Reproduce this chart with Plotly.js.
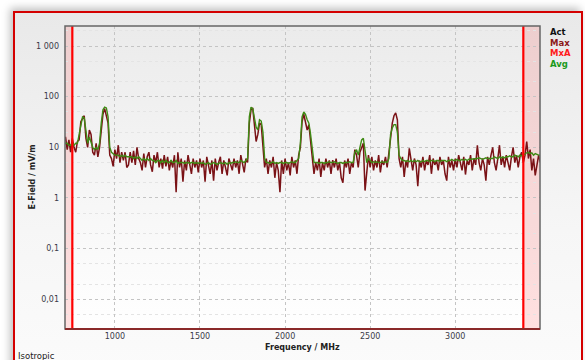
<!DOCTYPE html>
<html>
<head>
<meta charset="utf-8">
<script src="https://cdn.plot.ly/plotly-3.0.1.min.js"></script>
<style>
html,body{margin:0;padding:0;width:585px;height:360px;overflow:hidden;background:#fff;}
#panel{position:absolute;left:13px;top:11px;width:566px;height:360px;border:2px solid #d40000;border-bottom:none;
background:linear-gradient(#e9e9e9,#f6f6f6 60%,#fbfbfb);box-shadow:-3px -3px 8px rgba(0,0,0,0.25);}
#chart{position:absolute;left:0;top:0;width:585px;height:360px;}
</style>
</head>
<body>
<div id="panel"></div>
<div id="chart"></div>
<script>
// sweep definition (MHz)
const freqStart = 700;
const freqStep = 10;

// Average reading (mV/m)
const avgValues = [
 11, 12, 12, 11, 11, 12, 11, 12, 12, 18,
 30, 40, 38, 22, 12, 16, 13, 10, 9, 10,
 9, 12, 30, 55, 62, 60, 40, 10, 8, 7.5,
 7, 7, 7, 6.5, 7, 6.5, 7, 6.5, 6.5, 6.5,
 6.5, 6, 6.5, 6, 6.5, 6, 5.5, 6, 5.5, 6,
 5.5, 6, 5.5, 5.5, 5, 5.5, 5.5, 5, 5.5, 5,
 5.5, 5, 5, 5.5, 5, 5, 5.5, 4.8, 5, 5,
 5, 4.8, 5, 5, 4.8, 5, 5, 4.8, 5, 4.8,
 5, 4.8, 5, 4.6, 4.8, 5, 4.6, 4.8, 5, 4.8,
 4.6, 4.8, 5, 4.8, 4.8, 5, 4.6, 5, 4.8, 5,
 5, 5.2, 5, 5, 5.5, 5.2, 5, 5.5, 6, 40,
 62, 58, 40, 25, 22, 35, 33, 20, 6, 5,
 5, 4.8, 5, 5.2, 4.8, 5, 4.8, 5, 5, 4.8,
 5, 5, 4.8, 5, 5.2, 5, 5, 5.5, 6, 12,
 40, 50, 45, 35, 30, 18, 8, 5, 5, 5,
 4.8, 5, 5, 4.8, 5, 5, 5.2, 5, 5, 5.2,
 5, 4.8, 5, 5, 4.8, 5, 5, 5, 5.2, 5,
 5, 8, 9, 7, 10, 14, 15, 8, 5, 6,
 5.5, 5, 5.2, 5, 5.2, 5, 5, 5.2, 5, 5.2,
 5, 6, 18, 24, 28, 28, 20, 7, 6, 5.5,
 5.5, 5.2, 5.5, 5.2, 5.5, 5.2, 5.5, 5.2, 5.5, 5.2,
 5.2, 5.5, 5.2, 5.5, 5.5, 5.2, 5.5, 5.5, 5.2, 5.5,
 5.5, 5.2, 5.5, 5.5, 5.5, 5.2, 5.5, 5.5, 5.8, 5.5,
 5.5, 5.8, 5.5, 5.5, 5.8, 5.5, 5.8, 5.5, 5.8, 5.8,
 5.8, 6, 5.8, 6, 6.2, 6, 5.8, 6, 6.2, 6,
 6, 6.2, 6, 6.5, 6.2, 6, 6.5, 6.2, 6.5, 6.2,
 6.5, 6.5, 6.8, 6.5, 6.5, 7, 6.8, 6.5, 7, 6.8,
 7, 7.5, 7.8, 8, 7.5, 7.8, 7, 7.5, 7.2, 7,
 7
];

// Max-hold reading (mV/m)
const maxValues = [
 12, 16, 9, 14, 8, 15, 10, 8, 13, 14,
 32, 36, 42, 15, 10, 22, 18, 8, 7, 12,
 6.5, 10, 25, 45, 58, 40, 30, 7, 6, 4.2,
 9, 6, 11, 5, 8, 5.5, 8, 4, 4.5, 8,
 5, 8.5, 4.5, 10, 6, 5, 3.5, 7.5, 4, 6.5,
 8, 4.5, 3.3, 7, 5, 8, 4, 6, 3.8, 7,
 4.2, 6.5, 3.5, 5.5, 4, 7, 1.3, 8, 4, 6,
 2.1, 5.5, 3.5, 7, 4.5, 3, 6, 4, 5.5, 3.2,
 6, 4, 5.5, 2.1, 6.5, 4, 3, 5.5, 2.2, 6,
 3.5, 5, 6.5, 3, 5.5, 4, 2.8, 6, 4.5, 3.5,
 6, 4, 5.5, 3, 7, 4.5, 3.2, 6, 5, 30,
 55, 60, 25, 13, 18, 30, 28, 12, 4, 6,
 3, 5.5, 4, 6.5, 2.5, 5, 3.5, 1.3, 5.5, 3,
 6, 3.5, 5, 2.8, 6.5, 4, 5.5, 3, 7, 10,
 32, 45, 30, 22, 28, 14, 6, 3, 5, 3.5,
 6, 2.6, 5, 3.5, 6, 4, 5.5, 3, 5.6, 4,
 6, 3.5, 5, 2.5, 2, 5.5, 4, 6, 3, 5,
 4, 9, 7, 4, 8, 10, 12, 1.4, 3, 7,
 4, 6.5, 3.5, 5.5, 4, 7, 3.2, 5.5, 4.5, 6.5,
 4, 7, 15, 30, 42, 48, 35, 6, 4, 6.5,
 2.6, 5.5, 4, 9.5, 5, 3.5, 6, 4.5, 1.7, 5.5,
 4, 6.5, 3.5, 5.5, 4.5, 7, 3, 6, 4.5, 5.5,
 3.5, 6.5, 4.5, 5.5, 3, 2.2, 6.5, 4, 5.5, 3.5,
 6, 4, 7, 4.5, 3.5, 6.5, 2.9, 5.5, 4.5, 7,
 3.5, 6, 4.5, 11, 5, 3.5, 6, 4.5, 2.2, 6.5,
 4.5, 7, 10, 5, 3.5, 6, 11, 4.5, 6.5, 4,
 7, 5, 3.5, 6.5, 10, 5, 7, 4, 6.5, 8,
 5, 7, 13, 6, 9, 3.5, 6, 2.8, 5, 7,
 5
];

const freqs = avgValues.map((_, i) => freqStart + i * freqStep);

// axis / limits
const xRange = [707, 3498];
const limitLow = 750;
const limitHigh = 3400;
const xTickVals = [1000, 1500, 2000, 2500, 3000];
const xTickText = ['1000', '1500', '2000', '2500', '3000'];
const yTickVals = [0.01, 0.1, 1, 10, 100, 1000];
const yTickText = ['0,01', '0,1', '1', '10', '100', '1 000'];
const yMinorVals = [0.002, 0.005, 0.02, 0.05, 0.2, 0.5, 2, 5, 20, 50, 200, 500, 2000];
const legendLabels = ['Act', 'Max', 'MxA', 'Avg'];
const legendColors = ['#111111', '#8b1a1a', '#ff1a1a', '#1a9a1a'];

const bgSvg = "<svg xmlns='http://www.w3.org/2000/svg' width='10' height='100' preserveAspectRatio='none'>" +
  "<defs><linearGradient id='g' x1='0' y1='0' x2='0' y2='1'><stop offset='0' stop-color='#ebebeb'/>" +
  "<stop offset='1' stop-color='#ffffff'/></linearGradient></defs><rect width='10' height='100' fill='url(#g)'/></svg>";

const traces = [
  {x: freqs, y: maxValues, type: 'scatter', mode: 'lines', name: 'Max',
   line: {color: '#7a1216', width: 1.5}, hoverinfo: 'skip'},
  {x: freqs, y: avgValues, type: 'scatter', mode: 'lines', name: 'Avg',
   line: {color: '#3f8a14', width: 1.4}, hoverinfo: 'skip'}
];

const tickFont = {family: 'DejaVu Sans, Verdana, sans-serif', size: 8, color: '#3a3a48'};

const shapes = [
  {type: 'rect', xref: 'x', yref: 'paper', x0: xRange[0], x1: limitLow, y0: 0, y1: 1,
   fillcolor: 'rgba(255,0,0,0.12)', line: {width: 0}, layer: 'below'},
  {type: 'rect', xref: 'x', yref: 'paper', x0: limitHigh, x1: xRange[1], y0: 0, y1: 1,
   fillcolor: 'rgba(255,0,0,0.12)', line: {width: 0}, layer: 'below'},
  {type: 'line', xref: 'x', yref: 'paper', x0: limitLow, x1: limitLow, y0: 0, y1: 1,
   line: {color: '#ff0000', width: 2.2}},
  {type: 'line', xref: 'x', yref: 'paper', x0: limitHigh, x1: limitHigh, y0: 0, y1: 1,
   line: {color: '#ff0000', width: 2.2}},
  {type: 'rect', xref: 'paper', yref: 'paper', x0: 0, x1: 1, y0: 0, y1: 1,
   line: {color: '#666666', width: 1.5}},
  {type: 'line', xref: 'paper', yref: 'paper', x0: 0, x1: 1, y0: 0, y1: 0,
   line: {color: '#8b2a2a', width: 2}}
];

const annotations = [
  {text: '<b>E-Field / mV/m</b>', xref: 'paper', yref: 'paper', x: -0.083, y: 0.5,
   textangle: -90, showarrow: false, font: {family: 'DejaVu Sans, Verdana, sans-serif', size: 8, color: '#222'}},
  {text: '<b>Frequency / MHz</b>', xref: 'paper', yref: 'paper', x: 0.5, y: -0.062,
   yanchor: 'middle', showarrow: false, font: {family: 'DejaVu Sans, Verdana, sans-serif', size: 8, color: '#222'}},
  {text: 'Isotropic', xref: 'paper', yref: 'paper', x: -0.104, xanchor: 'left', y: -0.088, yanchor: 'middle',
   showarrow: false, font: {family: 'DejaVu Sans, Verdana, sans-serif', size: 8.5, color: '#222'}}
];
legendLabels.forEach((t, i) => {
  annotations.push({text: '<b>' + t + '</b>', xref: 'paper', yref: 'paper', x: 1.017, xanchor: 'left',
    y: 1 - (32 + i * 10.5 - 26) / 303, yanchor: 'middle', showarrow: false,
    font: {family: 'DejaVu Sans, Verdana, sans-serif', size: 8.5, color: legendColors[i]}});
});

const layout = {
  width: 585, height: 360,
  margin: {l: 65, r: 45, t: 26, b: 31, pad: 0},
  paper_bgcolor: 'rgba(0,0,0,0)',
  plot_bgcolor: 'rgba(0,0,0,0)',
  showlegend: false,
  images: [{source: 'data:image/svg+xml;utf8,' + encodeURIComponent(bgSvg), xref: 'paper', yref: 'paper',
    x: 0, y: 1, sizex: 1, sizey: 1, sizing: 'stretch', layer: 'below', xanchor: 'left', yanchor: 'top'}],
  xaxis: {range: xRange, tickmode: 'array', tickvals: xTickVals, ticktext: xTickText,
    showgrid: true, gridcolor: '#c4c4c4', griddash: 'dot', gridwidth: 1, zeroline: false,
    showline: false, ticks: '', tickfont: tickFont, ticklabelstandoff: 1},
  yaxis: {type: 'log', range: [-2.587, 3.395], tickmode: 'array', tickvals: yTickVals, ticktext: yTickText,
    showgrid: true, gridcolor: '#c4c4c4', griddash: 'dot', gridwidth: 1, zeroline: false,
    showline: false, ticks: '', tickfont: tickFont, ticklabelstandoff: 5,
    minor: {tickmode: 'array', tickvals: yMinorVals, showgrid: true, gridcolor: '#e4e4e4', gridwidth: 1, ticks: ''}},
  shapes: shapes,
  annotations: annotations
};

Plotly.newPlot('chart', traces, layout, {staticPlot: true, displayModeBar: false});
</script>
</body>
</html>
